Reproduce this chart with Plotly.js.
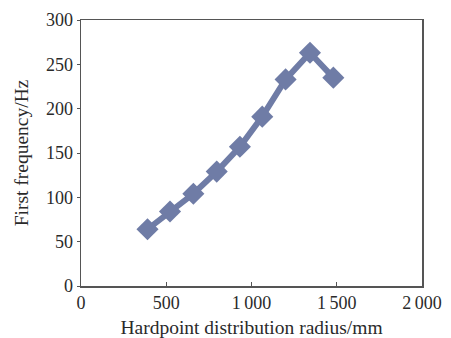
<!DOCTYPE html>
<html>
<head>
<meta charset="utf-8">
<script src="https://cdn.plot.ly/plotly-3.0.1.min.js"></script>
<style>html,body{margin:0;padding:0;background:#fff;}#chart{width:451px;height:338px;}</style>
</head>
<body>
<div id="chart"></div>
<script>
const radius = [390, 522, 659, 796, 932, 1063, 1200, 1343, 1480];
const frequency = [64, 84, 104, 129, 157, 191, 233, 263, 235];
const xTickVals = [0, 500, 1000, 1500, 2000];
const xTickText = ['0', '500', '1\u2009000', '1\u2009500', '2\u2009000'];
const yTickVals = [0, 50, 100, 150, 200, 250, 300];

const fontFam = '"Liberation Serif", "Times New Roman", serif';
const trace = {
  x: radius, y: frequency, type: 'scatter', mode: 'lines+markers',
  line: {color: '#6f7ca6', width: 6},
  marker: {symbol: 'diamond', size: 17, color: '#6f7ca6'},
  hoverinfo: 'none'
};
const layout = {
  width: 451, height: 338,
  margin: {l: 81, r: 29, t: 20, b: 52},
  paper_bgcolor: '#fff', plot_bgcolor: '#fff',
  showlegend: false,
  font: {family: fontFam, size: 18, color: '#2a2a2a'},
  xaxis: {
    range: [0, 2000], tickvals: xTickVals, ticktext: xTickText,
    showgrid: false, zeroline: false, showline: true, mirror: true,
    linecolor: '#555', linewidth: 1.5, ticks: 'inside', ticklen: 4, tickcolor: '#555',
    tickfont: {family: fontFam, size: 18, color: '#2a2a2a'},
    title: {text: 'Hardpoint distribution radius/mm', font: {family: fontFam, size: 19.5, color: '#2a2a2a'}, standoff: 9}
  },
  yaxis: {
    range: [0, 300], tickvals: yTickVals,
    showgrid: false, zeroline: false, showline: true, mirror: true,
    linecolor: '#555', linewidth: 1.5, ticks: 'outside', ticklen: 3, tickcolor: '#555',
    tickfont: {family: fontFam, size: 18, color: '#2a2a2a'},
    title: {text: 'First frequency/Hz', font: {family: fontFam, size: 19.5, color: '#2a2a2a'}, standoff: 12}
  }
};
Plotly.newPlot('chart', [trace], layout, {displayModeBar: false, staticPlot: true});
</script>
</body>
</html>
